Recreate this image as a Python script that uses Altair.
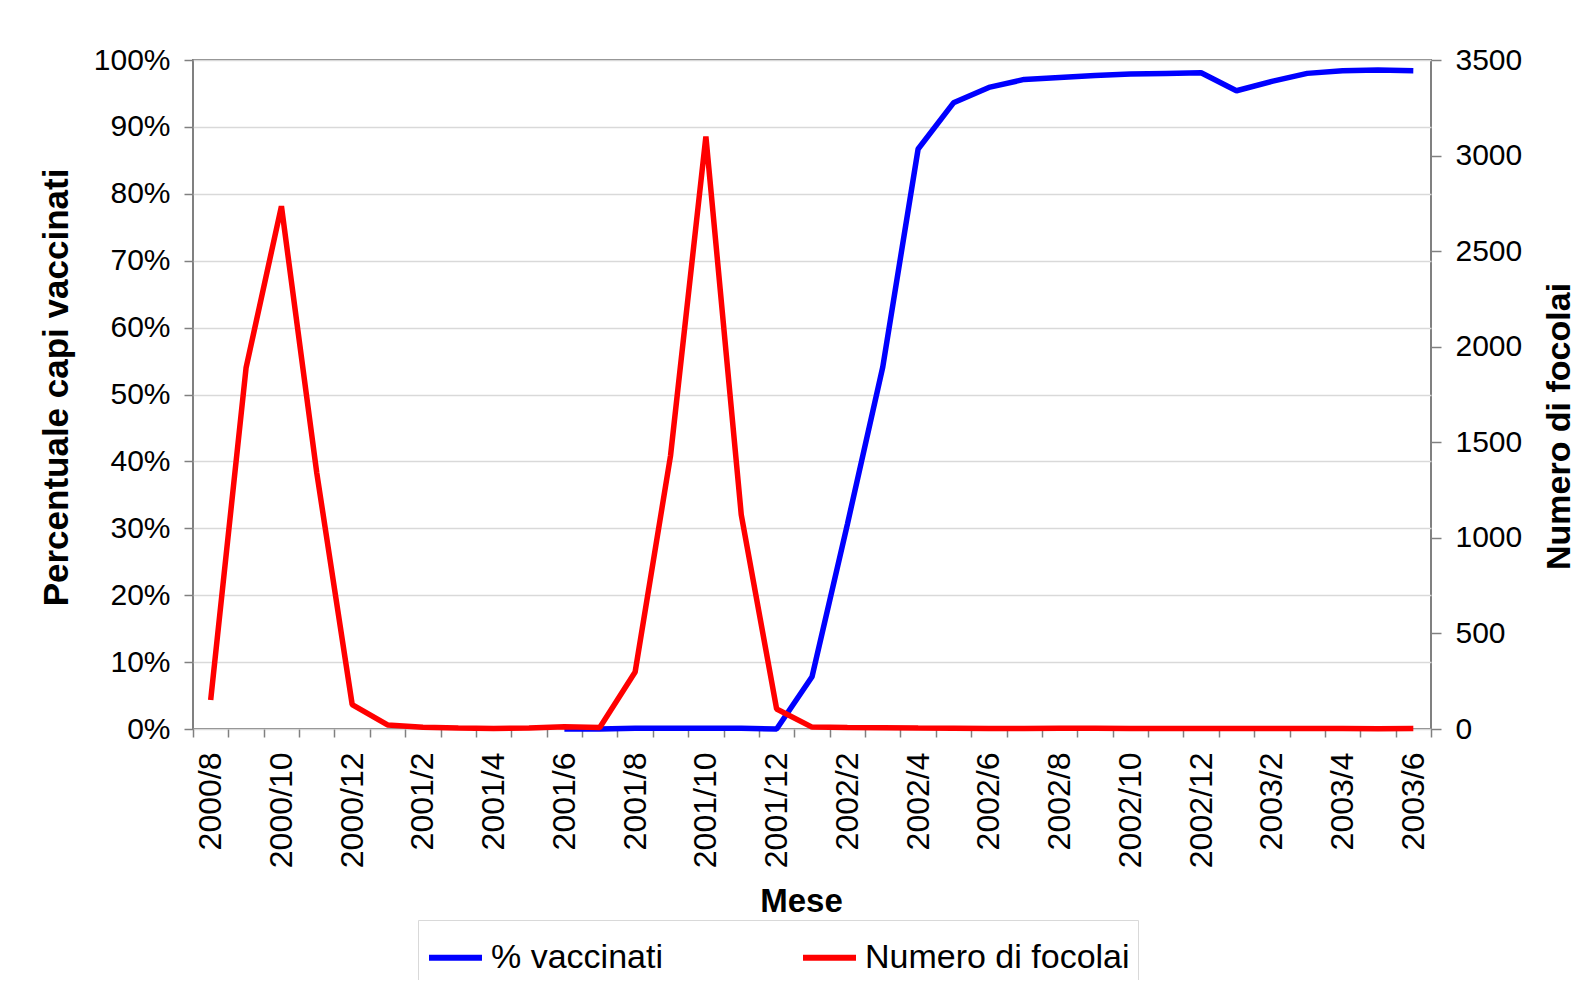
import altair as alt
import pandas as pd

FONT = "Liberation Sans"

mesi = [
    "2000/8", "2000/9", "2000/10", "2000/11", "2000/12",
    "2001/1", "2001/2", "2001/3", "2001/4", "2001/5", "2001/6", "2001/7",
    "2001/8", "2001/9", "2001/10", "2001/11", "2001/12",
    "2002/1", "2002/2", "2002/3", "2002/4", "2002/5", "2002/6", "2002/7",
    "2002/8", "2002/9", "2002/10", "2002/11", "2002/12",
    "2003/1", "2003/2", "2003/3", "2003/4", "2003/5", "2003/6",
]

# Numero di focolai (right axis)
focolai = [152, 1889, 2735, 1339, 128, 21, 9, 5, 3, 5, 12, 8, 298, 1429, 3100,
           1121, 105, 10, 8, 7, 5, 4, 3, 3, 4, 4, 2, 3, 2, 2, 2, 2, 2, 1, 2]

# % vaccinati (left axis), series starts at 2001/6
inizio_vaccinati = "2001/6"
vaccinati = [0.0, 0.0, 0.001, 0.001, 0.001, 0.001, 0.0, 0.078, 0.306, 0.541,
             0.867, 0.936, 0.959, 0.971, 0.974, 0.977, 0.979, 0.980, 0.981,
             0.954, 0.968, 0.980, 0.984, 0.985, 0.984]

left_ticks = [0, 0.1, 0.2, 0.3, 0.4, 0.5, 0.6, 0.7, 0.8, 0.9, 1.0]
right_ticks = [0, 500, 1000, 1500, 2000, 2500, 3000, 3500]
serie = ["% vaccinati", "Numero di focolai"]
colori = ["#0000ff", "#ff0000"]

idx = list(range(len(mesi)))
start = mesi.index(inizio_vaccinati)
df_f = pd.DataFrame({"i": idx, "mese": mesi, "valore": focolai, "serie": serie[1]})
df_v = pd.DataFrame({"i": idx[start:], "mese": mesi[start:], "valore": vaccinati, "serie": serie[0]})

xdom = [-0.5, len(mesi) - 0.5]
label_expr = "[" + ",".join("'" + m + "'" for m in mesi) + "][datum.value]"
label_values = idx[::2]
boundary_values = [k - 0.5 for k in range(len(mesi) + 1)]

legend = alt.Legend(
    orient="none", legendX=225, legendY=860, direction="horizontal", title=None,
    symbolType="stroke", symbolStrokeWidth=6, symbolSize=2809,
    labelFont=FONT, labelFontSize=34, labelColor="black", labelOffset=6,
    columnPadding=128, padding=8, strokeColor="#d9d9d9", labelLimit=0,
)
color = alt.Color("serie:N", scale=alt.Scale(domain=serie, range=colori), legend=legend)

blue = alt.Chart(df_v).mark_line(strokeWidth=5.5, strokeJoin="bevel").encode(
    x=alt.X("i:Q", scale=alt.Scale(domain=xdom, nice=False, zero=False),
            axis=alt.Axis(orient="bottom", values=label_values, labelExpr=label_expr,
                          labelAngle=270, labelAlign="right", labelBaseline="middle",
                          labelFontSize=32, labelPadding=23, ticks=False, tickSize=0,
                          domain=False, grid=False, labelOverlap=False, labelFlush=False,
                          title="Mese", titleFontSize=33, titleFontWeight="bold",
                          titleX=608, titleY=172, titleAlign="center", titleBaseline="middle")),
    y=alt.Y("valore:Q", scale=alt.Scale(domain=[0, 1], nice=False, zero=True),
            axis=alt.Axis(orient="left", values=left_ticks, format=".0%",
                          grid=True, gridColor="#d9d9d9", gridWidth=1.5,
                          tickSize=9, tickWidth=1.5, labelPadding=14, labelFontSize=30,
                          domain=False, labelOverlap=False,
                          title="Percentuale capi  vaccinati", titleFontSize=35,
                          titleFontWeight="bold", titleAngle=270, titleX=-137, titleY=327,
                          titleAlign="center", titleBaseline="middle")),
    color=color,
)

red = alt.Chart(df_f).mark_line(strokeWidth=5.5, strokeJoin="bevel").encode(
    x=alt.X("i:Q", scale=alt.Scale(domain=xdom, nice=False, zero=False),
            axis=alt.Axis(orient="bottom", values=boundary_values, labels=False,
                          ticks=True, tickSize=8, tickWidth=1.5, domain=False, grid=False,
                          title=None)),
    y=alt.Y("valore:Q", scale=alt.Scale(domain=[0, 3500], nice=False, zero=True),
            axis=alt.Axis(orient="right", values=right_ticks, format="d", grid=False,
                          tickSize=10, tickWidth=1.5, labelPadding=14, labelFontSize=30,
                          domain=False, labelOverlap=False,
                          title="Numero di focolai", titleFontSize=34,
                          titleFontWeight="bold", titleAngle=270, titleX=128, titleY=366,
                          titleAlign="center", titleBaseline="middle")),
    color=color,
)

chart = (
    alt.layer(blue, red)
    .resolve_scale(x="independent", y="independent")
    .properties(
        width=1238, height=669,
        padding={"left": 185, "top": 52, "right": 156, "bottom": 251},
        autosize=alt.AutoSizeParams(type="none"),
        background="white",
    )
    .configure_view(stroke="#808080", strokeWidth=2)
    .configure_axis(labelFont=FONT, titleFont=FONT, labelColor="black",
                    titleColor="black", tickColor="#808080")
)

chart.save("out.html", embed_options={"renderer": "svg", "actions": False})
